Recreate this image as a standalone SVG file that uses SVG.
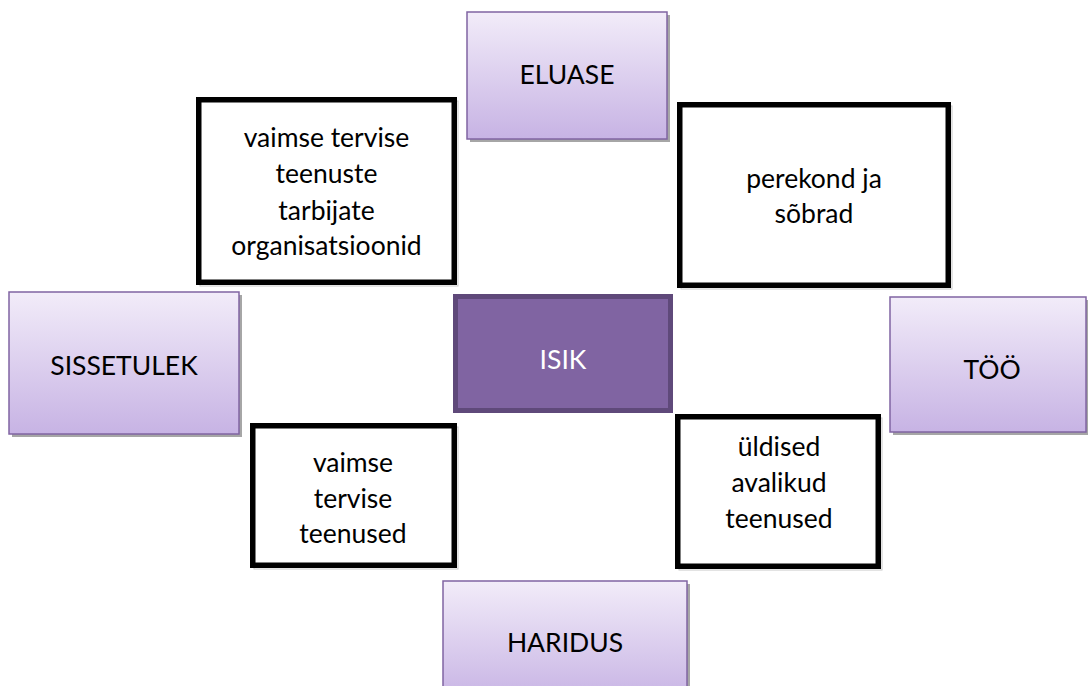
<svg xmlns="http://www.w3.org/2000/svg" width="1088" height="686" viewBox="0 0 1088 686">
  <defs>
    <linearGradient id="lav" x1="0" y1="0" x2="0" y2="1">
      <stop offset="0" stop-color="#F2ECF9"/>
      <stop offset="1" stop-color="#C7B3E4"/>
    </linearGradient>
    <style>
      .shadow { fill: #A6A6A6; }
      .lav { fill: url(#lav); stroke: #8064A2; stroke-width: 1.5; }
      .blk { fill: #FFFFFF; stroke: #000000; stroke-width: 5.5; }
      .bshadow { fill: none; stroke: #C8C8C8; stroke-width: 1; }
      .core { fill: #8064A2; stroke: #5F497A; stroke-width: 5; }
      text { font-family: Lato, "Liberation Sans", sans-serif; font-size: 26.5px; fill: #000000; text-anchor: middle; }
      .white { fill: #FFFFFF; }
    </style>
  </defs>
  <rect width="1088" height="686" fill="#FFFFFF"/>

  <g id="connectors"></g>

  <g id="eluase">
    <rect class="shadow" x="470" y="15" width="200" height="127"/>
    <rect class="lav" x="467" y="12" width="200" height="127"/>
    <text x="567" y="84">ELUASE</text>
  </g>

  <g id="sissetulek">
    <rect class="shadow" x="12" y="295" width="230" height="142"/>
    <rect class="lav" x="9" y="292" width="230" height="142"/>
    <text x="124" y="375">SISSETULEK</text>
  </g>

  <g id="too">
    <rect class="shadow" x="893" y="300" width="196" height="135"/>
    <rect class="lav" x="890" y="297" width="196" height="135"/>
    <text x="992" y="379">TÖÖ</text>
  </g>

  <g id="haridus">
    <rect class="shadow" x="446" y="584" width="244" height="120"/>
    <rect class="lav" x="443" y="581" width="244" height="120"/>
    <text x="565" y="652">HARIDUS</text>
  </g>

  <g id="isik">
    <rect class="core" x="455.5" y="296.5" width="215" height="114"/>
    <text class="white" x="563" y="369">ISIK</text>
  </g>

  <g id="organisatsioonid">
    <rect class="bshadow" x="200" y="101" width="258" height="185"/>
    <rect class="blk" x="198.75" y="99.75" width="255.5" height="182.5"/>
    <text x="326.5" y="147">vaimse tervise</text>
    <text x="326.5" y="183">teenuste</text>
    <text x="326.5" y="220">tarbijate</text>
    <text x="326.5" y="255">organisatsioonid</text>
  </g>

  <g id="perekond">
    <rect class="bshadow" x="681" y="106" width="271" height="183"/>
    <rect class="blk" x="679.75" y="104.75" width="268.5" height="180.5"/>
    <text x="814" y="188">perekond ja</text>
    <text x="814" y="223">sõbrad</text>
  </g>

  <g id="teenused">
    <rect class="bshadow" x="254" y="427" width="204" height="142"/>
    <rect class="blk" x="252.75" y="425.75" width="201.5" height="139.5"/>
    <text x="353" y="472">vaimse</text>
    <text x="353" y="508">tervise</text>
    <text x="353" y="543">teenused</text>
  </g>

  <g id="avalikud">
    <rect class="bshadow" x="679" y="418" width="203" height="152"/>
    <rect class="blk" x="677.75" y="416.75" width="200.5" height="149.5"/>
    <text x="779" y="456">üldised</text>
    <text x="779" y="492">avalikud</text>
    <text x="779" y="528">teenused</text>
  </g>
</svg>
